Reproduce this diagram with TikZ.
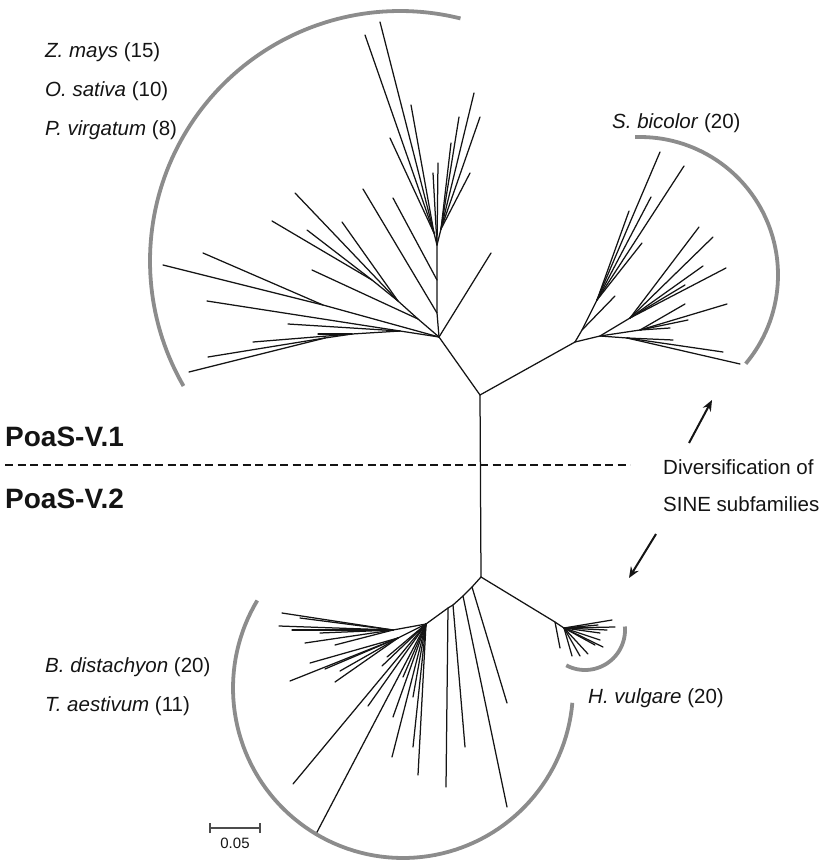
\documentclass[tikz,border=0pt]{standalone}
\usepackage{fontspec}
\setmainfont{Liberation Sans}
\usetikzlibrary{arrows.meta}
\definecolor{arcgray}{gray}{0.55}
\definecolor{inkc}{gray}{0.08}
\begin{document}
\begin{tikzpicture}[x=1pt,y=-1pt,
  br/.style={line width=1.25pt, inkc, line cap=round},
  bracket/.style={line width=3.8pt, arcgray},
  lbl/.style={anchor=base west, inner sep=0pt, font=\fontsize{20.5}{24}\selectfont, inkc},
  grp/.style={anchor=base west, inner sep=0pt, font=\fontsize{28}{32}\selectfont\bfseries, inkc},
  arr/.style={line width=2pt, inkc, -{Stealth[length=11pt,width=9pt]}},
  scalebar/.style={line width=1.5pt, gray!60!black}]
\useasboundingbox (0,0) rectangle (823,861);

% ---------- backbone ----------
\coordinate (C) at (480,395);
\coordinate (D) at (481,577);
\coordinate (A) at (439,337);
\coordinate (B) at (575,342);
\draw[br] (A) -- (C) -- (D);
\draw[br] (C) -- (B);

% ---------- PoaS-V.1, left clade ----------
\coordinate (E)  at (437,245);
\coordinate (S1) at (437,313);
\coordinate (S2) at (437,280);
\coordinate (E1) at (434,233);
\coordinate (E2) at (441,229);
\draw[br] (A) -- (S1) -- (S2) -- (E) -- (E1);
\draw[br] (E) -- (E2);
\foreach \p in {(380,22),(365,35),(411,105),(390,138)} \draw[br] (E1) -- \p;
\foreach \p in {(474,93),(459,117),(480,117),(451,143),(470,173)} \draw[br] (E2) -- \p;
\foreach \p in {(433,173),(438,163)} \draw[br] (E) -- \p;
\draw[br] (S1) -- (363,189);
\draw[br] (S2) -- (393,198);
\draw[br] (A) -- (491,253);

\coordinate (U3) at (418,319);
\coordinate (U1) at (398,301);
\coordinate (U2) at (372,280);
\draw[br] (A) -- (U3) -- (U1) -- (U2);
\draw[br] (U3) -- (312,270);
\foreach \p in {(295,193),(342,222)} \draw[br] (U1) -- \p;
\foreach \p in {(272,221),(307,230)} \draw[br] (U2) -- \p;

\coordinate (M1) at (323,305);
\draw[br] (A) -- (M1) -- (163,265);
\draw[br] (M1) -- (203,253);

\coordinate (L1) at (400,331);
\coordinate (L2) at (352,334);
\coordinate (L3) at (325,338);
\draw[br] (A) -- (L1) -- (L2) -- (L3);
\foreach \p in {(207,301),(288,324)} \draw[br] (L1) -- \p;
\foreach \p in {(318,334),(253,342)} \draw[br] (L2) -- \p;
\foreach \p in {(208,357),(189,372)} \draw[br] (L3) -- \p;

% ---------- PoaS-V.1, S. bicolor clade ----------
\coordinate (B1)  at (582,330);
\coordinate (B1a) at (597,300);
\coordinate (B2)  at (600,336);
\coordinate (B2a) at (630,318);
\coordinate (B2b) at (640,330);
\coordinate (B2c) at (627,338);
\draw[br] (B) -- (B1) -- (B1a);
\draw[br] (B) -- (B2) -- (B2a);
\draw[br] (B2) -- (B2b);
\draw[br] (B2) -- (B2c);
\draw[br] (B1) -- (615,296);
\foreach \p in {(660,152),(684,166),(651,197),(629,211),(642,243)} \draw[br] (B1a) -- \p;
\foreach \p in {(699,227),(713,237),(703,266),(726,268),(685,285)} \draw[br] (B2a) -- \p;
\foreach \p in {(685,304),(727,304),(688,320),(670,328)} \draw[br] (B2b) -- \p;
\foreach \p in {(673,340),(723,352),(740,364)} \draw[br] (B2c) -- \p;

% ---------- PoaS-V.2, B. distachyon / T. aestivum clade ----------
\coordinate (P1) at (472,587);
\coordinate (P2) at (463,596);
\coordinate (P3) at (453,605);
\coordinate (P4) at (448,608);
\coordinate (F)  at (426,624);
\draw[br] (D) -- (P1) -- (P2) -- (P3) -- (P4) -- (F);
\draw[br] (P1) -- (507,703);
\draw[br] (P2) -- (507,807);
\draw[br] (P3) -- (465,747);
\draw[br] (P4) -- (446,787);
\coordinate (F1) at (393,630);
\coordinate (F2) at (398,638);
\draw[br] (F) -- (F1);
\draw[br] (F) -- (F2);
\foreach \p in {(282,613),(279,626),(292,630),(320,633),(305,643),(335,645),(300,618)} \draw[br] (F1) -- \p;
\foreach \p in {(310,663),(290,681),(325,669),(335,682),(340,671)} \draw[br] (F2) -- \p;
\foreach \p in {(382,666),(387,657),(403,677),(413,697),(368,706),(393,717),(392,757),(413,747),(418,775),(293,784),(316,834)} \draw[br] (F) -- \p;

% ---------- PoaS-V.2, H. vulgare clade ----------
\coordinate (H0) at (555,622);
\coordinate (H)  at (564,628);
\draw[br] (D) -- (H0) -- (H);
\draw[br] (H0) -- (560,648);
\foreach \p in {(612,620),(615,627),(598,625),(600,633),(607,630),(600,640),(603,647),(595,645),(588,654),(580,656),(572,656)} \draw[br] (H) -- \p;

% ---------- clade brackets ----------
\draw[bracket] plot[domain=150:284, samples=90] ({400+250*cos(\x)},{261+250*sin(\x)});
\draw[bracket] plot[domain=-92:40, samples=60] ({640+138*cos(\x)},{275+138*sin(\x)});
\draw[bracket] plot[domain=5:211, samples=90] ({403+170*cos(\x)},{688+170*sin(\x)});
\draw[bracket] plot[domain=-5:118, samples=40] ({585+40*cos(\x)},{630+40*sin(\x)});

% ---------- group divider ----------
\coordinate (dL) at (5,465);
\coordinate (dR) at (630,465);
\draw[line width=1.4pt, inkc, dash pattern=on 8pt off 4.5pt] (dL) -- (dR);
\node[grp] (g1) at (5,446) {PoaS-V.1};
\node[grp] (g2) at (5,508) {PoaS-V.2};

% ---------- labels ----------
\node[lbl] (zm) at (45,58)  {\textit{Z. mays} (15)};
\node[lbl] (os) at (45,97)  {\textit{O. sativa} (10)};
\node[lbl] (pv) at (45,136) {\textit{P. virgatum} (8)};
\node[lbl] (sb) at (612,129) {\textit{S. bicolor} (20)};
\node[lbl] (bd) at (45,672) {\textit{B. distachyon} (20)};
\node[lbl] (ta) at (45,711) {\textit{T. aestivum} (11)};
\node[lbl] (hv) at (588,703) {\textit{H. vulgare} (20)};
\node[lbl] (dv1) at (663,474) {Diversification of};
\node[lbl] (dv2) at (663,511) {SINE subfamilies};

% ---------- arrows ----------
\coordinate (upT) at (689,443);
\coordinate (upH) at (712,400);
\coordinate (dnT) at (656,534);
\coordinate (dnH) at (629,578);
\draw[arr] (upT) -- (upH);
\draw[arr] (dnT) -- (dnH);

% ---------- scale bar ----------
\coordinate (sL) at (210,828);
\coordinate (sR) at (260,828);
\draw[scalebar] (sL) -- (sR);
\draw[scalebar] ([yshift=-5pt]sL) -- ([yshift=5pt]sL);
\draw[scalebar] ([yshift=-5pt]sR) -- ([yshift=5pt]sR);
\node[anchor=base, inner sep=0pt, font=\fontsize{15}{18}\selectfont, inkc] (sc) at (235,848) {0.05};
\end{tikzpicture}
\end{document}
